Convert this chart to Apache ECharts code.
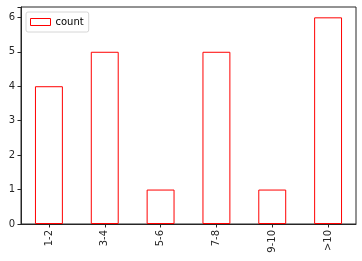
<!DOCTYPE html>
<html><head><meta charset="utf-8">
<script src="https://cdn.jsdelivr.net/npm/echarts@6/dist/echarts.min.js"></script>
<style>html,body{margin:0;padding:0;background:#fff}#c{width:362px;height:261px}</style>
</head><body><div id="c"></div>
<script>
var categories = ['1-2','3-4','5-6','7-8','9-10','>10'];
var counts = [4,5,1,5,1,6];
var yTicks = [0,1,2,3,4,5,6];
var chart = echarts.init(document.getElementById('c'), null, {renderer:'canvas'});
var font = 'DejaVu Sans';
chart.setOption({
  animation:false,
  backgroundColor:'#fff',
  grid:{left:21, right:6, top:7, bottom:37, show:true, borderColor:'#262626', borderWidth:1, backgroundColor:'transparent'},
  legend:{
    show:true, left:26, top:12, orient:'vertical',
    itemWidth:20, itemHeight:7, itemGap:4,
    padding:[5,5,5,4],
    borderColor:'#d6d6d6', borderWidth:1, borderRadius:2,
    textStyle:{fontFamily:font, fontSize:10, color:'#000', padding:[0,0,0,0]},
    data:[{name:'count', icon:'rect', itemStyle:{color:'#fff', borderColor:'#ff0000', borderWidth:1}}]
  },
  xAxis:{
    type:'category', data:categories, boundaryGap:true,
    axisLine:{show:true, lineStyle:{color:'#262626'}},
    axisTick:{show:true, alignWithLabel:true, length:3.5, lineStyle:{color:'#262626'}},
    axisLabel:{rotate:90, fontFamily:font, fontSize:10, color:'#262626', margin:6},
    splitLine:{show:false}
  },
  yAxis:{
    type:'value', min:0, max:6.3, interval:1,
    axisLine:{show:true, lineStyle:{color:'#262626'}},
    axisTick:{show:true, length:3.5, lineStyle:{color:'#262626'}},
    axisLabel:{fontFamily:font, fontSize:10, color:'#262626', margin:6,
      formatter:function(v){return yTicks.indexOf(v)>=0 ? String(v) : '';}},
    splitLine:{show:false}
  },
  series:[{
    name:'count', type:'bar', data:counts, barWidth:'50%',
    itemStyle:{color:'rgba(255,255,255,0)', borderColor:'#ff0000', borderWidth:1}
  }]
});
</script></body></html>
